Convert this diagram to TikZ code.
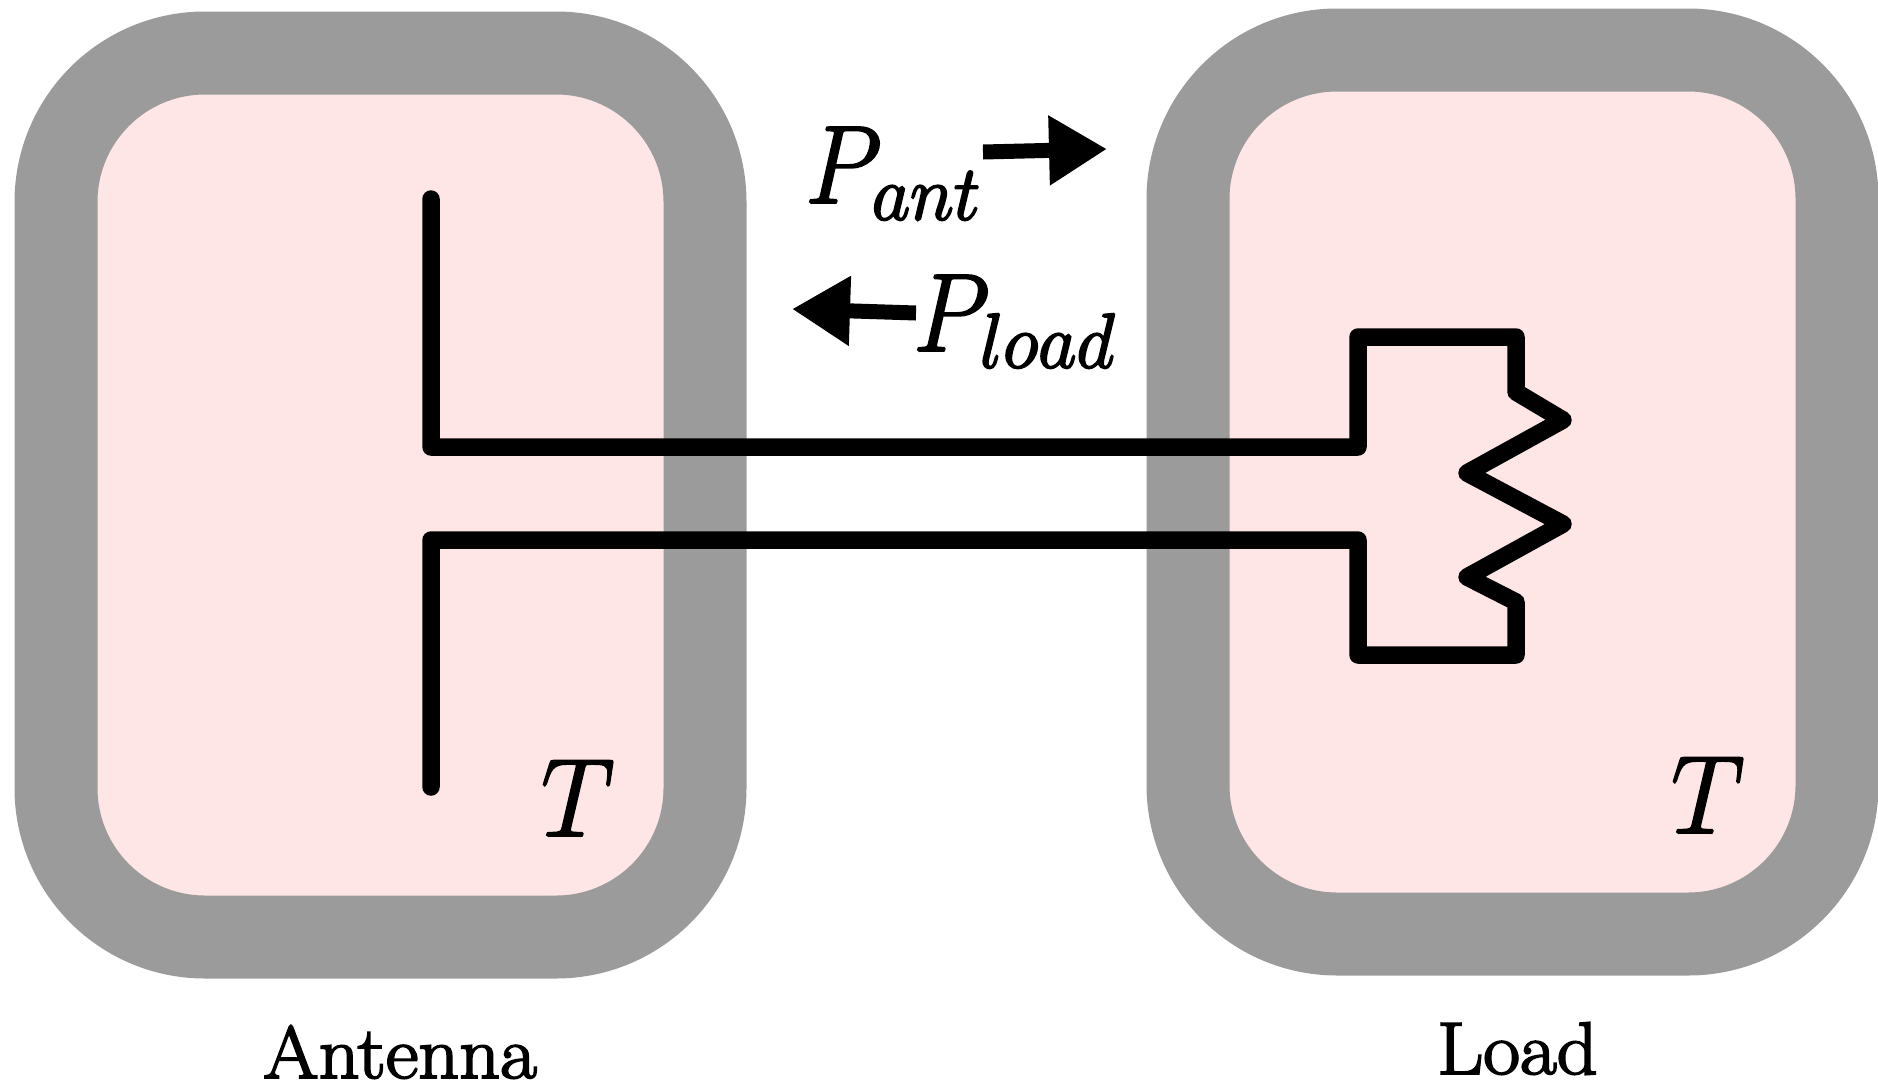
\documentclass[tikz,border=0pt]{standalone}
\usepackage{fix-cm}
\usepackage{graphicx}
\usetikzlibrary{arrows.meta}
\definecolor{bandgray}{HTML}{9B9B9B}
\definecolor{innerpink}{HTML}{FFE6E6}
\newcommand{\heavy}[1]{\special{pdf:code q 0 G 2 Tr 2 w}#1\special{pdf:code Q}}
\newcommand{\subtext}[1]{\kern-10pt\scalebox{0.96}[1]{$\scriptstyle #1$}}
\tikzset{
  chamber/.style={draw=bandgray,fill=innerpink,line width=83pt,rounded corners=149pt,inner sep=0pt,minimum width=649pt,minimum height=884pt},
  wire/.style={draw=black,line width=17.5pt,line cap=round,line join=round},
  flow/.style={draw=black,line width=15pt,-{Triangle[length=58pt,width=66pt]}},
  mathlabel/.style={inner sep=0pt,anchor=base west,font=\fontsize{111}{111}\selectfont},
  caption/.style={inner sep=0pt,anchor=base west,font=\fontsize{80}{80}\selectfont}
}
\begin{document}
\begin{tikzpicture}[x=1pt,y=-1pt]
\useasboundingbox (0,0) rectangle (1878,1087);
\node[chamber] (ant) at (380.5,495) {};
\node[chamber] (load) at (1512.5,492) {};
% antenna and line
\coordinate (a1) at (431,199);
\coordinate (a2) at (431,447);
\coordinate (a3) at (1358,447);
\coordinate (a4) at (1358,337);
\coordinate (a5) at (1516,337);
\coordinate (a6) at (1516,392);
\coordinate (z1) at (1563,420);
\coordinate (z2) at (1467,473);
\coordinate (z3) at (1563,524);
\coordinate (z4) at (1467,577);
\coordinate (b6) at (1516,602);
\coordinate (b5) at (1516,655);
\coordinate (b4) at (1358,655);
\coordinate (b3) at (1358,540);
\coordinate (b2) at (431,540);
\coordinate (b1) at (431,787);
\path[wire] (a1) -- (a2) -- (a3) -- (a4) -- (a5) -- (a6) -- (z1) -- (z2) -- (z3) -- (z4) -- (b6) -- (b5) -- (b4) -- (b3) -- (b2) -- (b1);
% power flow arrows
\coordinate (p1s) at (983,152);
\coordinate (p1e) at (1107,149);
\coordinate (p2s) at (916,313);
\coordinate (p2e) at (792,309);
\draw[flow] (p1s) -- (p1e);
\draw[flow] (p2s) -- (p2e);
\node[mathlabel] (pant) at (805,203) {\heavy{$\scalebox{0.9}[1]{$P$}_{\subtext{ant}}$}};
\node[mathlabel] (pload) at (913,351) {\heavy{$\scalebox{0.9}[1]{$P$}_{\subtext{load}}$}};
\node[mathlabel] (tant) at (541,836) {\heavy{\scalebox{0.93}[1]{$T$}}};
\node[mathlabel] (tload) at (1671,833) {\heavy{\scalebox{0.93}[1]{$T$}}};
\node[caption] (capant) at (263,1078) {\heavy{\scalebox{1}[0.93]{Antenna}}};
\node[caption] (capload) at (1437,1074) {\heavy{\scalebox{1}[0.93]{Load}}};
\end{tikzpicture}
\end{document}
